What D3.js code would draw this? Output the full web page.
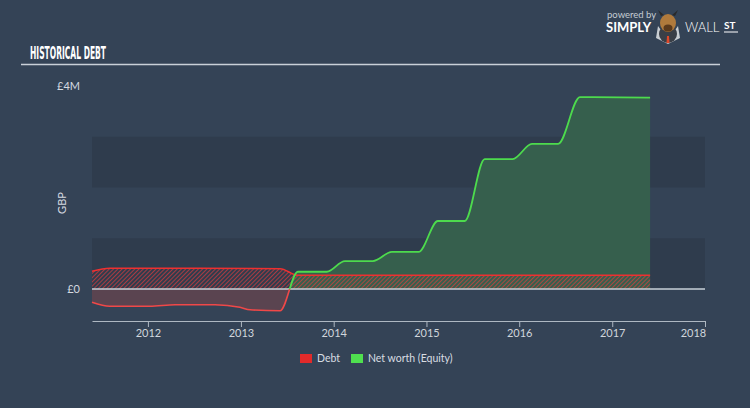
<!DOCTYPE html>
<html><head><meta charset="utf-8">
<script src="https://cdn.jsdelivr.net/npm/d3@7"></script>
<style>
html,body{margin:0;padding:0;background:#344356;}
svg{display:block;font-family:Lato,"Open Sans",sans-serif;}
</style></head>
<body><svg id="c" width="750" height="408"></svg>
<script>
// ---- data ----
const yearTicks = [2012, 2013, 2014, 2015, 2016, 2017, 2018];
const yTickValues = [0, 4];
const yTickLabels = ["£0", "£4M"];
const debtDates = ["2011-05-26","2011-08-04","2012-07-23","2013-06-04","2013-08-13","2017-05-30"];
const debtValues = [0.35, 0.41, 0.41, 0.40, 0.27, 0.27];
const equityDates = ["2011-05-26","2011-08-04","2012-01-08","2012-04-17","2012-09-21","2012-12-28","2013-02-06","2013-06-04","2013-08-13","2013-12-05","2014-02-14","2014-06-04","2014-08-18","2014-12-01","2015-02-15","2015-06-01","2015-08-18","2015-12-06","2016-02-20","2016-06-02","2016-08-27","2017-05-30"];
const equityValues = [-0.26,-0.34,-0.34,-0.31,-0.31,-0.36,-0.41,-0.43,0.34,0.34,0.55,0.55,0.73,0.73,1.34,1.34,2.56,2.56,2.86,2.86,3.78,3.77];
const legendItems = ["Debt", "Net worth (Equity)"];

const parse = d3.timeParse("%Y-%m-%d");
const debt = debtDates.map((d,i)=>({t:parse(d), v:debtValues[i]}));
const equity = equityDates.map((d,i)=>({t:parse(d), v:equityValues[i]}));

const svg = d3.select("#c");
const W = 750, H = 408;
const left = 92, right = 705;
const x = d3.scaleTime().domain([parse("2011-05-26"), new Date(2018,0,1)]).range([left, right]);
const y = d3.scaleLinear().domain([0, 4]).range([289, 86]);

const defs = svg.append("defs");
const pat = defs.append("pattern").attr("id","hatch").attr("patternUnits","userSpaceOnUse")
  .attr("width",3).attr("height",3).attr("patternTransform","rotate(45)");
pat.append("line").attr("x1",0).attr("y1",0).attr("x2",0).attr("y2",3)
  .attr("stroke","#f03a3a").attr("stroke-width",1.4).attr("stroke-opacity",0.9);
defs.append("clipPath").attr("id","above").append("rect")
  .attr("x",0).attr("y",0).attr("width",W).attr("height",y(0));
defs.append("clipPath").attr("id","below").append("rect")
  .attr("x",0).attr("y",y(0)).attr("width",W).attr("height",H-y(0));

// background
svg.append("rect").attr("width",W).attr("height",H).attr("fill","#344356");

// title
svg.append("text").attr("x",30).attr("y",59).text("HISTORICAL DEBT")
  .attr("fill","#ffffff").attr("font-family","'DejaVu Sans Condensed','DejaVu Sans',sans-serif")
  .attr("font-stretch","condensed").attr("font-weight","bold").attr("font-size",17)
  .attr("textLength",76).attr("lengthAdjust","spacingAndGlyphs");
svg.append("line").attr("x1",21).attr("x2",720).attr("y1",64.5).attr("y2",64.5)
  .attr("stroke","#c9d0d8").attr("stroke-width",1.5);

// logo
svg.append("text").attr("x",607).attr("y",18).text("powered by")
  .attr("fill","#c4ccd4").attr("font-size",9.5);
svg.append("text").attr("x",606).attr("y",32).text("SIMPLY")
  .attr("fill","#ffffff").attr("font-size",13).attr("font-weight","bold");
const logo = svg.append("g").attr("transform","translate(668,24)");
logo.append("path").attr("d","M-10,2 L0,16 L10,2 L12,14 L0,20 L-12,14 Z").attr("fill","#c8cdd2");
logo.append("circle").attr("cx",0).attr("cy",10).attr("r",9).attr("fill","#3a3f47");
logo.append("path").attr("d","M-7,-8 L-10,-14 L-4,-9 Z M7,-8 L10,-14 L4,-9 Z").attr("fill","#2a2a2a");
logo.append("ellipse").attr("cx",0).attr("cy",-1).attr("rx",8).attr("ry",9).attr("fill","#b07a3c");
logo.append("ellipse").attr("cx",0).attr("cy",4).attr("rx",4.5).attr("ry",3.5).attr("fill","#5c3a1c");
logo.append("path").attr("d","M-1,12 L1,12 L1.5,19 L-1.5,19 Z").attr("fill","#e0482a");
svg.append("text").attr("x",685).attr("y",32).text("WALL")
  .attr("fill","#ffffff").attr("font-size",13).attr("font-weight","300");
svg.append("text").attr("x",724).attr("y",29).text("ST")
  .attr("fill","#ffffff").attr("font-size",10).attr("font-weight","bold");
svg.append("line").attr("x1",724).attr("x2",738).attr("y1",32).attr("y2",32)
  .attr("stroke","#ffffff").attr("stroke-width",1);

// bands
[[2,3],[0,1]].forEach(b=>{
  svg.append("rect").attr("x",left).attr("width",right-left)
    .attr("y",y(b[1])).attr("height",y(b[0])-y(b[1])).attr("fill","#2f3c4d");
});

// y labels
yTickValues.forEach((v,i)=>{
  svg.append("text").attr("x",80).attr("y",y(v)).attr("dy","0.35em")
    .attr("text-anchor","end").attr("fill","#d4dae0").attr("font-size",11).text(yTickLabels[i]);
});
svg.append("text").attr("transform","translate(66,203) rotate(-90)")
  .attr("text-anchor","middle").attr("fill","#d4dae0").attr("font-size",11).text("GBP");

const curve = d3.curveMonotoneX;
// equity fill
const eqArea = d3.area().x(d=>x(d.t)).y0(y(0)).y1(d=>y(d.v)).curve(curve);
svg.append("path").datum(equity).attr("d",eqArea).attr("fill","#365f4d").attr("clip-path","url(#above)");
svg.append("path").datum(equity).attr("d",eqArea).attr("fill","#5a4450").attr("clip-path","url(#below)");

// debt hatch
const dArea = d3.area().x(d=>x(d.t)).y0(y(0)).y1(d=>y(d.v)).curve(curve);
svg.append("path").datum(debt).attr("d",dArea).attr("fill","url(#hatch)");
const dLine = d3.line().x(d=>x(d.t)).y(d=>y(d.v)).curve(curve);
svg.append("path").datum(debt).attr("d",dLine).attr("fill","none")
  .attr("stroke","#ee3030").attr("stroke-width",1.6);

// zero line
svg.append("line").attr("x1",left).attr("x2",right).attr("y1",y(0)).attr("y2",y(0))
  .attr("stroke","#c9d0d8").attr("stroke-width",1.3);

// equity line
const eLine = d3.line().x(d=>x(d.t)).y(d=>y(d.v)).curve(curve);
svg.append("path").datum(equity).attr("d",eLine).attr("fill","none")
  .attr("stroke","#4ddb4d").attr("stroke-width",1.8).attr("clip-path","url(#above)");
svg.append("path").datum(equity).attr("d",eLine).attr("fill","none")
  .attr("stroke","#f04848").attr("stroke-width",1.6).attr("clip-path","url(#below)");

// x axis
const xAxis = d3.axisBottom(x).tickValues(yearTicks.map(yr=>new Date(yr,0,1)))
  .tickFormat(d3.timeFormat("%Y")).tickSize(6).tickSizeOuter(0);
const gx = svg.append("g").attr("transform","translate(0,321)").call(xAxis);
gx.select(".domain").attr("stroke","#aeb8c2");
gx.selectAll(".tick line").attr("stroke","#aeb8c2");
gx.selectAll(".tick text").attr("fill","#d0d6dc").attr("font-size",11)
  .attr("font-family","Lato,'Open Sans',sans-serif").attr("y",8);
gx.selectAll(".tick").filter(d=>d.getFullYear()===2018).select("text").attr("dx","-12");

// legend
const legColors = ["#e22a2a","#4fe04f"];
const legX = [300, 351];
legendItems.forEach((t,i)=>{
  svg.append("rect").attr("x",legX[i]).attr("y",354).attr("width",12).attr("height",9).attr("fill",legColors[i]);
  svg.append("text").attr("x",legX[i]+17).attr("y",362).attr("fill","#d8dde2")
    .attr("font-size",10.5).text(t);
});
</script></body></html>
